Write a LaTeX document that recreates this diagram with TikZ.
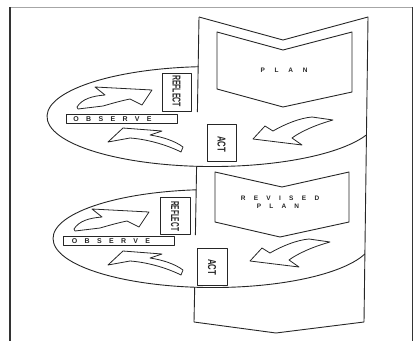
\documentclass[tikz,border=0pt]{standalone}
\usepackage{fontspec}
\setmainfont{Liberation Sans}
\usepackage{graphicx}
\newlength\gp
\newcommand\g{\hspace{\gp}}
\begin{document}
\begin{tikzpicture}[x=1pt,y=-1pt,line join=round,
  shp/.style={draw=black!85,line width=0.9pt},
  arr/.style={draw=black!85,line width=0.8pt,fill=white},
  lab/.style={inner sep=0pt,text=black!85},
  hlab/.style={lab,font=\fontsize{6.5}{8}\selectfont\bfseries}]
\useasboundingbox (0,0) rectangle (420,341);
% frame
\draw[black!35,line width=0.6pt] (10,7) -- (412,7);
\draw[black!80,line width=1.6pt] (10,7) -- (10,341);
\draw[black!80,line width=0.9pt] (412,7) -- (412,341);
% band
\draw[shp] (199,17) -- (283,40) -- (368,17) -- (364,322) -- (276,333) -- (194,322) -- (194.7,287.2);
\draw[shp] (199,17) -- (197.4,112);
\draw[shp] (196.6,166.3) -- (195.4,235);
% ellipses
\draw[shp] (198.65,66.7) arc[start angle=265.2,end angle=21.5,x radius=165.5,y radius=50];
\draw[shp] (196.3,189.8) arc[start angle=264,end angle=18.3,x radius=160,y radius=49];
% plan boxes
\draw[shp] (217,32) -- (283,50) -- (352,32) -- (352,92) -- (283,107) -- (217,89) -- cycle;
\draw[shp] (215,172) -- (282,187) -- (349,172) -- (349,222) -- (280,237) -- (215,222) -- cycle;
\node[hlab] (plan1) at (284,70.5) {\setlength\gp{1.5em}P\g L\g A\g N};
\node[hlab] (rev) at (280,198.3) {\setlength\gp{1.28em}R\g E\g V\g I\g S\g E\g D};
\node[hlab] (plan2) at (278,206) {\setlength\gp{1.25em}P\g L\g A\g N};
% label boxes upper
\draw[shp] (162,73) rectangle (191,111);
\draw[shp] (66,114) rectangle (177,123);
\draw[shp] (207,124) rectangle (236,161);
\node[lab,rotate=-90] (refl1) at (176.5,91) {\resizebox{32pt}{8pt}{\bfseries REFLECT}};
\node[hlab,font=\fontsize{7}{8}\selectfont\bfseries] (obs1) at (112.5,118.7) {\setlength\gp{1.05em}O\g B\g S\g E\g R\g V\g E};
\node[lab,rotate=-90] (act1) at (221.5,144) {\resizebox{16pt}{8pt}{\bfseries ACT}};
% label boxes lower
\draw[shp] (160,197) rectangle (190,234);
\draw[shp] (63,236) rectangle (174,245);
\draw[shp] (197,248) rectangle (227,285);
\node[lab,rotate=-90] (refl2) at (175,216) {\resizebox{30pt}{8pt}{\bfseries REFLECT}};
\node[hlab,font=\fontsize{7}{8}\selectfont\bfseries] (obs2) at (111,240.7) {\setlength\gp{1.05em}O\g B\g S\g E\g R\g V\g E};
\node[lab,rotate=-90] (act2) at (212,267) {\resizebox{16pt}{8pt}{\bfseries ACT}};
% arrows
\foreach \sx/\sy/\tx/\ty in {0/0/0/0, -3/122/0/123}{
\begin{scope}[shift={(\sx,\sy)}]
\draw[arr] (77,107) .. controls (82,99) and (92,96) .. (105,95) -- (95,87) -- (152,90) -- (142,105) -- (130,99) .. controls (120,101) and (110,104) .. (103,106) -- (78,109) -- cycle;
\draw[arr] (253,139) -- (265,126) -- (273,131) .. controls (285,124) and (300,118) .. (312,117) -- (333,120) .. controls (315,125) and (300,132) .. (292,138) -- (302,145) -- cycle;
\end{scope}
\begin{scope}[shift={(\tx,\ty)}]
\draw[arr] (108,142) -- (123,128) -- (162,131) -- (150,135) .. controls (163,137) and (175,141) .. (183,147) -- (181,152) .. controls (165,144) and (145,139) .. (130,138) -- cycle;
\end{scope}
}
\end{tikzpicture}
\end{document}
